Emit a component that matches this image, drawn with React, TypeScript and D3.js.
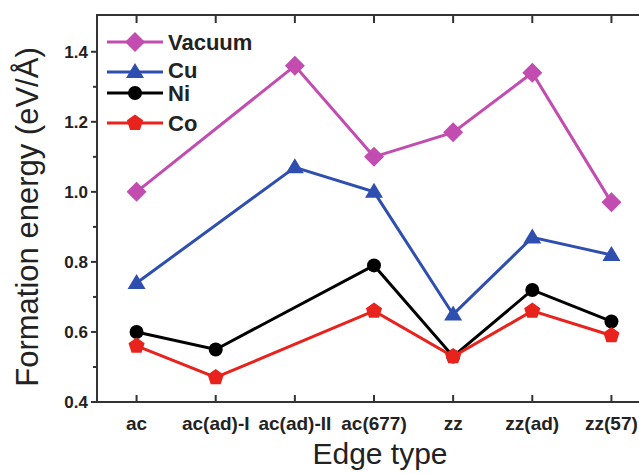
import React from "react";
import * as d3 from "d3";

const edgeTypes = ["ac", "ac(ad)-I", "ac(ad)-II", "ac(677)", "zz", "zz(ad)", "zz(57)"];
// null = no point for that edge type
const vacuum = [1.0, null, 1.36, 1.1, 1.17, 1.34, 0.97];
const cu = [0.74, null, 1.07, 1.0, 0.65, 0.87, 0.82];
const ni = [0.6, 0.55, null, 0.79, 0.53, 0.72, 0.63];
const co = [0.56, 0.47, null, 0.66, 0.53, 0.66, 0.59];
const seriesNames = ["Vacuum", "Cu", "Ni", "Co"];
const yTicks = [0.4, 0.6, 0.8, 1.0, 1.2, 1.4];
const yMinorTicks = [0.5, 0.7, 0.9, 1.1, 1.3];

const colors = ["#c24cb0", "#2f4fb0", "#000000", "#e8221c"];
const shapes = ["diamond", "triangle", "circle", "pentagon"];

const W = 639,
  H = 473;
const margin = { top: 15, left: 97, bottom: 71 };
const plotRight = 651; // right frame lies outside the window

const Marker = ({ shape, x, y, color }: { shape: string; x: number; y: number; color: string }) => {
  if (shape === "circle") return <circle cx={x} cy={y} r={7} fill={color} />;
  if (shape === "diamond")
    return <path d={`M${x},${y - 10}L${x + 10},${y}L${x},${y + 10}L${x - 10},${y}Z`} fill={color} />;
  if (shape === "triangle")
    return <path d={`M${x},${y - 9}L${x + 9},${y + 6}L${x - 9},${y + 6}Z`} fill={color} />;
  const pts = d3.range(5).map((i) => {
    const a = -Math.PI / 2 + (i * 2 * Math.PI) / 5;
    return [x + 8.5 * Math.cos(a), y + 8.5 * Math.sin(a)];
  });
  return <path d={"M" + pts.map((p) => p.join(",")).join("L") + "Z"} fill={color} />;
};

export default function App() {
  const data = [vacuum, cu, ni, co];
  const bottom = H - margin.bottom;
  const x = d3.scaleLinear().domain([0.5, edgeTypes.length + 0.5]).range([margin.left, plotRight]);
  const y = d3.scaleLinear().domain([0.4, 1.505]).range([bottom, margin.top]);

  const line = d3
    .line<[number, number]>()
    .x((d) => x(d[0]))
    .y((d) => y(d[1]));

  const legendY = [42, 72, 93, 123];
  const legendText = [50, 78, 101, 131];
  const axisColor = "#333";
  const font = "Arial, 'Liberation Sans', sans-serif";

  return (
    <svg width={W} height={H} style={{ position: "absolute", left: 0, top: 0, background: "#fff" }}>
      <rect width={W} height={H} fill="#fff" />
      {/* frame */}
      <path
        d={`M${plotRight},${margin.top}H${margin.left}V${bottom}H${plotRight}`}
        fill="none"
        stroke={axisColor}
        strokeWidth={2}
      />
      {/* x ticks, top and bottom, pointing inward */}
      {edgeTypes.map((c, i) => (
        <g key={c}>
          <line x1={x(i + 1)} x2={x(i + 1)} y1={bottom} y2={bottom - 7} stroke={axisColor} strokeWidth={2} />
          <line x1={x(i + 1)} x2={x(i + 1)} y1={margin.top} y2={margin.top + 8} stroke={axisColor} strokeWidth={2} />
          <text
            x={x(i + 1)}
            y={bottom + 28}
            textAnchor="middle"
            fontFamily={font}
            fontWeight="bold"
            fontSize={19}
            fill="#222"
          >
            {c}
          </text>
        </g>
      ))}
      {/* y ticks, outward */}
      {yTicks.map((t) => (
        <g key={t}>
          <line x1={margin.left} x2={margin.left - 6} y1={y(t)} y2={y(t)} stroke={axisColor} strokeWidth={2} />
          <text
            x={margin.left - 9}
            y={y(t) + 6}
            textAnchor="end"
            fontFamily={font}
            fontWeight="bold"
            fontSize={17}
            fill="#222"
          >
            {t.toFixed(1)}
          </text>
        </g>
      ))}
      {yMinorTicks.map((t) => (
        <line key={t} x1={margin.left} x2={margin.left - 4} y1={y(t)} y2={y(t)} stroke={axisColor} strokeWidth={2} />
      ))}
      {/* series */}
      {data.map((vals, si) => {
        const pts = vals
          .map((v, i) => (v == null ? null : ([i + 1, v] as [number, number])))
          .filter((p): p is [number, number] => p !== null);
        return (
          <g key={seriesNames[si]}>
            <path d={line(pts) || ""} fill="none" stroke={colors[si]} strokeWidth={3} />
            {pts.map((p, i) => (
              <Marker key={i} shape={shapes[si]} x={x(p[0])} y={y(p[1])} color={colors[si]} />
            ))}
          </g>
        );
      })}
      {/* legend */}
      {seriesNames.map((n, i) => (
        <g key={n}>
          <line x1={107} x2={163} y1={legendY[i]} y2={legendY[i]} stroke={colors[i]} strokeWidth={3} />
          <Marker shape={shapes[i]} x={135} y={legendY[i]} color={colors[i]} />
          <text x={168} y={legendText[i]} fontFamily={font} fontWeight="bold" fontSize={22} fill="#222">
            {n}
          </text>
        </g>
      ))}
      {/* axis titles */}
      <text x={380} y={464} textAnchor="middle" fontFamily={font} fontSize={30} fill="#222">
        Edge type
      </text>
      <text
        transform={`translate(38,217) rotate(-90)`}
        textAnchor="middle"
        fontFamily={font}
        fontSize={31}
        fill="#222"
      >
        Formation energy (eV/Å)
      </text>
    </svg>
  );
}
